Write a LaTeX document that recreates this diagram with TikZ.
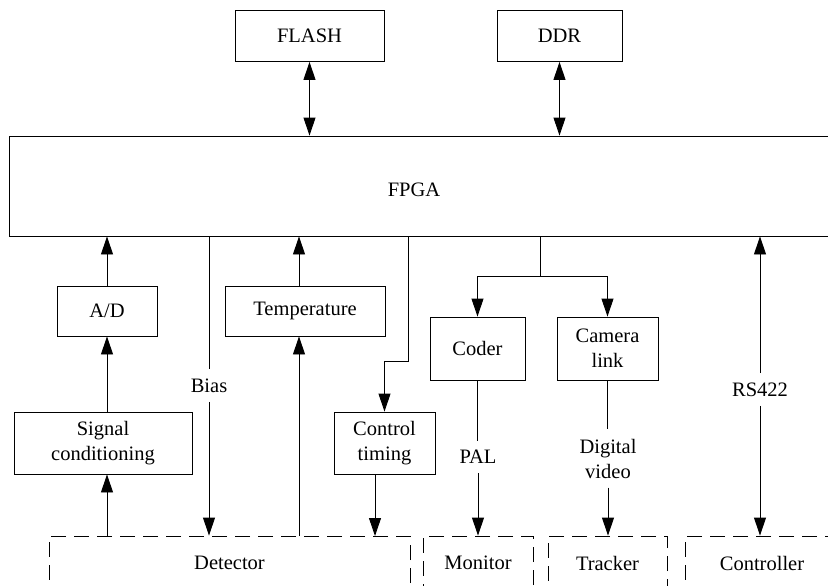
\documentclass[tikz,border=0pt]{standalone}
\usepackage{fontspec}
\setmainfont{Liberation Serif}
\usetikzlibrary{arrows.meta}
\begin{document}
\begin{tikzpicture}[x=1pt,y=-1pt,
  line width=0.9pt,>={Triangle[length=18pt,width=12pt]},
  box/.style={draw,rectangle,inner sep=0pt,align=center,font=\fontsize{20.5}{25}\selectfont},
  dev box/.style={box,dash pattern=on 15pt off 8pt},
  sig label/.style={inner xsep=0pt,inner ysep=9pt,align=center,font=\fontsize{20.5}{25}\selectfont}, ]
  \useasboundingbox (0,0) rectangle (828,586);

  \node[box,minimum width=149pt,minimum height=51pt] (flash) at (309.5,36) {FLASH};
  \node[box,minimum width=125pt,minimum height=51pt] (ddr) at (559.5,36) {DDR};
  \node[box,minimum width=830pt,minimum height=100pt] (fpga) at (424.5,186) {};
  \node[sig label] (fpgatext) at (414,190) {FPGA};

  \node[box,minimum width=100pt,minimum height=50pt] (ad) at (107,311) {A/D};
  \node[box,minimum width=160pt,minimum height=50pt] (temp) at (305,311) {Temperature};
  \node[box,minimum width=178pt,minimum height=62pt] (sig) at (103,443) {Signal\\conditioning};
  \node[box,minimum width=101pt,minimum height=62pt] (ctrl) at (384.5,443) {Control\\timing};
  \node[box,minimum width=95pt,minimum height=63pt] (coder) at (477.5,348.5) {Coder};
  \node[box,minimum width=101pt,minimum height=63pt] (cam) at (607.5,348.5) {Camera\\link};

  \node[dev box,minimum width=361pt,minimum height=54pt] (det) at (229.5,563) {Detector};
  \node[dev box,minimum width=110pt,minimum height=54pt] (mon) at (478,563) {Monitor};
  \node[dev box,minimum width=119pt,minimum height=54pt] (trk) at (607.5,563) {Tracker};
  \node[dev box,minimum width=154pt,minimum height=54pt] (ctl) at (762,563) {Controller};

  \node[sig label] (bias) at (209,385.5) {Bias};
  \node[sig label] (pal) at (478,457) {PAL};
  \node[sig label] (dv) at (608,458.5) {Digital\\video};
  \node[sig label] (rs) at (760,389.5) {RS422};

  \coordinate (tempin) at (299,536);
  \coordinate (ctrlbend) at (408,361);
  \coordinate (ctrlout) at (375,536);
  \coordinate (split) at (540,276);

  \path[<->]
  (flash.south) edge (flash.south |- fpga.north)
  (ddr.south) edge (ddr.south |- fpga.north);

  \path[->]
  (ad.north) edge (ad.north |- fpga.south)
  (ad.south |- sig.north) edge (ad.south)
  (ad.south |- det.north) edge (ad.south |- sig.south)
  (tempin) edge (tempin |- temp.south)
  (temp.north -| tempin) edge (tempin |- fpga.south)
  (bias.south) edge (bias.south |- det.north)
  (ctrlout |- ctrl.south) edge (ctrlout)
  (pal.south) edge (pal.south |- mon.north)
  (dv.south) edge (dv.south |- trk.north)
  (rs.north) edge (rs.north |- fpga.south)
  (rs.south) edge (rs.south |- ctl.north);

  \draw (bias.north |- fpga.south) -- (bias.north);
  \draw[->] (ctrlbend |- fpga.south) -- (ctrlbend) -| (ctrl.north);
  \draw (split |- fpga.south) -- (split);
  \draw[->] (split) -| (coder.north);
  \draw[->] (split) -| (cam.north);
  \draw (coder.south) -- (coder.south |- pal.north);
  \draw (cam.south) -- (cam.south |- dv.north);
\end{tikzpicture}
\end{document}
